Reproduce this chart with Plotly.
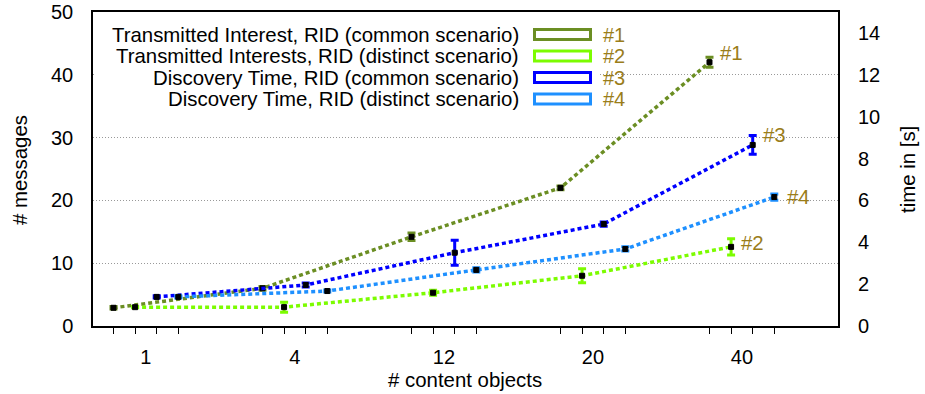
import plotly.graph_objects as go

# Number of content objects (categories on the x axis)
content_objects = ["1", "4", "12", "20", "40"]

# Transmitted interests (# messages, left axis)
interest_common = [2.9, 6.0, 14.2, 22.0, 42.0]
interest_common_err = [0.2, 0.3, 0.6, 0.3, 0.8]
interest_distinct = [3.0, 3.0, 5.3, 8.0, 12.6]
interest_distinct_err = [0.1, 0.8, 0.4, 1.1, 1.3]

# Discovery time (seconds, right axis)
discovery_common = [1.39, 1.96, 3.5, 4.87, 8.65]
discovery_common_err = [0.05, 0.1, 0.6, 0.1, 0.45]
discovery_distinct = [1.39, 1.67, 2.68, 3.68, 6.16]
discovery_distinct_err = [0.05, 0.05, 0.1, 0.1, 0.15]

series_names = [
    "Transmitted Interest, RID (common scenario)",
    "Transmitted Interests, RID (distinct scenario)",
    "Discovery Time, RID (common scenario)",
    "Discovery Time, RID (distinct scenario)",
]
series_tags = ["#1", "#2", "#3", "#4"]
series_colors = ["#6B8E23", "#7CFC00", "#0000FF", "#1E90FF"]
tag_color = "#9a7d1a"

FONT = "Liberation Sans, Arial, sans-serif"
FS = 20
KEY_FS = 20.4

# Plot area in pixels
W, H = 925, 394
L, R, T, B = 93, 838, 12, 326


def px_x(p):
    return (p - L) / (R - L)


def px_y(p):
    return (B - p) / (B - T)


# Each series sits at its own offset inside a category group
offsets = [-0.2175, -0.0725, 0.0725, 0.2175]
groups = list(range(len(content_objects)))

series = [
    (interest_common, interest_common_err, "y"),
    (interest_distinct, interest_distinct_err, "y"),
    (discovery_common, discovery_common_err, "y2"),
    (discovery_distinct, discovery_distinct_err, "y2"),
]

fig = go.Figure()
for i, (vals, errs, yax) in enumerate(series):
    xs = [g + offsets[i] for g in groups]
    fig.add_trace(go.Scatter(
        x=xs, y=vals, yaxis=yax, mode="lines+markers",
        name=series_names[i], showlegend=False,
        line=dict(color=series_colors[i], width=3.5, dash="4px,3px"),
        marker=dict(symbol="square", size=5, color="black",
                    line=dict(color="black", width=1)),
        error_y=dict(type="data", array=errs, visible=True,
                     color=series_colors[i], thickness=3, width=4),
    ))

minor_ticks = [g + o for g in groups for o in offsets]

fig.update_layout(
    width=W, height=H,
    margin=dict(l=L, r=W - R, t=T, b=H - B, autoexpand=False),
    paper_bgcolor="white", plot_bgcolor="white",
    font=dict(family=FONT, size=FS, color="black"),
    xaxis=dict(
        range=[-0.355, 4.645], automargin=False,
        tickmode="array", tickvals=groups, ticktext=content_objects,
        ticks="", ticklabelstandoff=12,
        showgrid=False, zeroline=False,
        showline=True, linecolor="black", linewidth=1.5, mirror=True,
        minor=dict(tickmode="array", tickvals=minor_ticks, ticks="outside",
                   ticklen=6, tickwidth=1, tickcolor="black", showgrid=False),
    ),
    yaxis=dict(
        range=[0, 50], automargin=False,
        tickmode="array", tickvals=[0, 10, 20, 30, 40, 50],
        ticks="", ticklabelstandoff=14,
        showgrid=True, gridcolor="#999999", griddash="1px,2px", gridwidth=1,
        zeroline=False,
        showline=True, linecolor="black", linewidth=1.5, mirror=True,
    ),
    yaxis2=dict(
        range=[0, 15], overlaying="y", side="right", automargin=False,
        tickmode="array", tickvals=[0, 2, 4, 6, 8, 10, 12, 14],
        ticks="", ticklabelstandoff=19,
        showgrid=False, zeroline=False, showline=False,
    ),
)

shapes = []
annotations = []

# Key box with white background
shapes.append(dict(type="rect", xref="paper", yref="paper",
                   x0=px_x(L + 1), x1=px_x(598), y0=px_y(118), y1=px_y(T + 1),
                   fillcolor="white", line=dict(width=0), layer="above"))

row_y = [34.5, 56, 77.5, 99]
for i in range(4):
    annotations.append(dict(
        xref="paper", yref="paper", x=px_x(521), y=px_y(row_y[i]),
        xanchor="right", yanchor="middle", text=series_names[i],
        showarrow=False, font=dict(size=KEY_FS, color="black")))
    shapes.append(dict(type="rect", xref="paper", yref="paper",
                       x0=px_x(534.5), x1=px_x(590.5),
                       y0=px_y(row_y[i] + 5), y1=px_y(row_y[i] - 5),
                       fillcolor="white",
                       line=dict(color=series_colors[i], width=3),
                       layer="above"))
    annotations.append(dict(
        xref="paper", yref="paper", x=px_x(601), y=px_y(row_y[i]),
        xanchor="left", yanchor="middle", text=series_tags[i],
        showarrow=False, font=dict(size=FS, color=tag_color)))

# Tags next to the last point of each series
tag_shift = [(9, 9), (8, 4), (8, 10), (11, 0)]
for i, (vals, errs, yax) in enumerate(series):
    annotations.append(dict(
        x=groups[-1] + offsets[i], y=vals[-1], xref="x", yref=yax,
        xanchor="left", yanchor="middle", xshift=tag_shift[i][0],
        yshift=tag_shift[i][1], text=series_tags[i], showarrow=False,
        font=dict(size=KEY_FS, color=tag_color)))

# Axis titles
annotations.append(dict(xref="paper", yref="paper", x=px_x(20), y=px_y(170),
                        text="# messages", textangle=-90, showarrow=False,
                        xanchor="center", yanchor="middle",
                        font=dict(size=KEY_FS)))
annotations.append(dict(xref="paper", yref="paper", x=px_x(908), y=px_y(170),
                        text="time in [s]", textangle=-90, showarrow=False,
                        xanchor="center", yanchor="middle",
                        font=dict(size=KEY_FS)))
annotations.append(dict(xref="paper", yref="paper", x=px_x(465), y=px_y(380),
                        text="# content objects", showarrow=False,
                        xanchor="center", yanchor="middle",
                        font=dict(size=KEY_FS)))

fig.update_layout(shapes=shapes, annotations=annotations)

fig.write_html("out.html")
